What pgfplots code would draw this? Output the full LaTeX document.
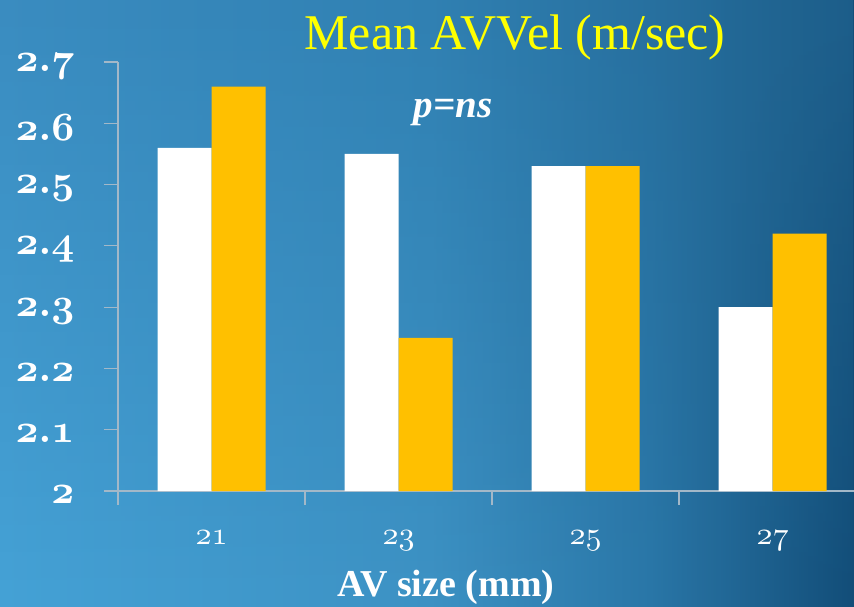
\documentclass[border=0pt]{standalone}
\usepackage{fontspec}
\setmainfont{Liberation Serif}
\usepackage{pgfplots}
\pgfplotsset{compat=1.18}
\usetikzlibrary{fadings}

\definecolor{bgB0}{HTML}{45A2D6}
\definecolor{bgB1}{HTML}{3D92C4}
\definecolor{bgB2}{HTML}{2A77A8}
\definecolor{bgB3}{HTML}{124D78}
\definecolor{bgT0}{HTML}{3A8CC0}
\definecolor{bgT1}{HTML}{3080B2}
\definecolor{bgT2}{HTML}{27709F}
\definecolor{bgT3}{HTML}{1D5E8A}
\definecolor{axcol}{HTML}{A3B8C8}
\definecolor{barY}{HTML}{FFC000}
\definecolor{titleY}{HTML}{FFFF00}

% background shadings: bottom row and top row, left to right
\pgfdeclarehorizontalshading{bgbot}{100bp}{color(0bp)=(bgB0); color(25bp)=(bgB0);
  color(50.17bp)=(bgB1); color(63.06bp)=(bgB2); color(75bp)=(bgB3); color(100bp)=(bgB3)}
\pgfdeclarehorizontalshading{bgtop}{100bp}{color(0bp)=(bgT0); color(25bp)=(bgT0);
  color(50.17bp)=(bgT1); color(63.06bp)=(bgT2); color(75bp)=(bgT3); color(100bp)=(bgT3)}
\tikzfading[name=fadeup, top color=transparent!0, bottom color=transparent!100]

% freely scalable old-style figures (math italic fonts)
\DeclareFontFamily{OML}{osf}{\skewchar\font=127}
\DeclareFontShape{OML}{osf}{b}{it}{<->cmmib10}{}
\DeclareFontShape{OML}{osf}{m}{it}{<->cmmi10}{}
\newcommand\osb[1]{\hbox{\fontsize{40}{48}\usefont{OML}{osf}{b}{it}#1}}
\newcommand\osbd[2]{\hbox{\fontsize{40}{48}\usefont{OML}{osf}{b}{it}#1\char58 #2}}
\newcommand\osm[1]{\hbox{\fontsize{32}{38}\usefont{OML}{osf}{m}{it}#1}}

\begin{document}
\begin{tikzpicture}[x=1pt,y=1pt]
\useasboundingbox (0,0) rectangle (854,606);
\clip (0,0) rectangle (854,606);

\shade[shading=bgbot] (0,0) rectangle (854,606);
\shade[shading=bgtop, path fading=fadeup] (0,0) rectangle (854,606);

\begin{axis}[
  at={(118pt,115pt)}, anchor=south west,
  scale only axis, width=748pt, height=429pt,
  xmin=-0.5, xmax=3.5, ymin=2, ymax=2.7,
  axis x line=bottom, axis y line=left,
  axis line style={-, draw=axcol, line width=1.5pt},
  ybar=0pt, bar width=54pt,
  ytick={2,2.1,2.2,2.3,2.4,2.5,2.6,2.7},
  yticklabels={\osb{2},\osbd{2}{1},\osbd{2}{2},\osbd{2}{3},\osbd{2}{4},\osbd{2}{5},\osbd{2}{6},\osbd{2}{7}},
  xtick={-0.5,0.5,1.5,2.5,3.5},
  x tick label as interval,
  xticklabels={\osm{21},\osm{23},\osm{25},\osm{27}},
  tick align=outside, major tick length=14pt,
  tick style={draw=axcol, line width=1.2pt},
  yticklabel style={text=white, xshift=-26pt, yshift=-4pt},
  xticklabel style={text=white, yshift=-22pt},
]
\addplot[fill=white, draw=none] coordinates {(0,2.56) (1,2.55) (2,2.53) (3,2.30)};
\addplot[fill=barY, draw=none] coordinates {(0,2.66) (1,2.25) (2,2.53) (3,2.42)};
\end{axis}

\node[anchor=base, text=titleY, font=\fontsize{50}{60}\selectfont, inner sep=0pt] at (515,556) {Mean AVVel (m/sec)};
\node[anchor=base, text=white, font=\fontsize{39}{47}\selectfont\bfseries\itshape, inner sep=0pt] at (453,488) {p=ns};
\node[anchor=base, text=white, font=\fontsize{38}{46}\selectfont\bfseries, inner sep=0pt] at (446,10) {AV size (mm)};
\end{tikzpicture}
\end{document}
